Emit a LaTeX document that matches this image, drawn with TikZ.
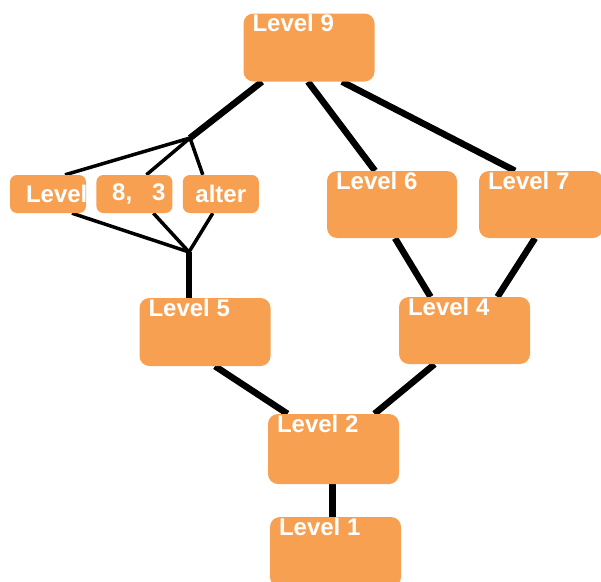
\documentclass[tikz,border=0pt]{standalone}
\usepackage{fontspec}
\setsansfont{Liberation Sans}
\usetikzlibrary{positioning,backgrounds}
\definecolor{LvlOrange}{RGB}{248,160,82}

\begin{document}
\begin{tikzpicture}[x=1pt,y=-1pt,
  lvl/.style={fill=LvlOrange,rounded corners=10pt,minimum width=131pt,minimum height=68pt,inner sep=0pt},
  small/.style={fill=LvlOrange,rounded corners=7pt,minimum width=76pt,minimum height=38pt,inner sep=0pt,
    font=\sffamily\bfseries\fontsize{24}{24}\selectfont,text=white},
  lbl/.style={anchor=north west,inner sep=0pt,xshift=9pt,yshift=-1pt,
    font=\sffamily\bfseries\fontsize{24}{24}\selectfont,text=white},
  thick line/.style={line width=6.5pt,draw=black},
  thin line/.style={line width=3.5pt,draw=black},
  node distance=10pt]
  \useasboundingbox (0,0) rectangle (601,581);
  \node[lvl,label={[lbl]north west:Level 9}] (l9) at (309,47.5) {};
  \node[lvl,minimum width=130pt,minimum height=67pt,label={[lbl]north west:Level 6}] (l6) at (392,204.5) {};
  \node[lvl,minimum width=124pt,minimum height=67pt,label={[lbl]north west:Level 7}] (l7) at (541,204.5) {};
  \node[lvl,label={[lbl]north west:Level 5}] (l5) at (205,332) {};
  \node[lvl,minimum height=67pt,label={[lbl]north west:Level 4}] (l4) at (464.5,330.5) {};
  \node[lvl,minimum height=70pt,label={[lbl]north west:Level 2}] (l2) at (333.5,449) {};
  \node[lvl,minimum height=70pt,label={[lbl]north west:Level 1}] (l1) at (335.5,552) {};
  % the three little boxes
  \node[small,text width=44pt,align=left] (lv) at (48,194) {Level};
  \node[small,right=of lv] (ea) {\hspace{9pt}8,\hspace{20pt}3};
  \node[small,right=of ea] (al) {alter};
  \coordinate (jtop) at (190,138);
  \coordinate (jbot) at (189,252);
  \begin{scope}[on background layer]
    \draw[thick line] ([xshift=-47pt]l9.south) -- (jtop);
    \draw[thick line] ([xshift=-1pt]l9.south) -- ([xshift=-17pt]l6.north);
    \draw[thick line] ([xshift=33pt]l9.south) -- ([xshift=-26pt]l7.north);
    \draw[thin line] (jtop) -- ([xshift=17pt]lv.north);
    \draw[thin line] (jtop) -- ([xshift=12pt]ea.north);
    \draw[thin line] (jtop) -- ([xshift=-18pt]al.north);
    \draw[thin line] ([xshift=24pt]lv.south) -- (jbot);
    \draw[thin line] ([xshift=19pt]ea.south) -- (jbot);
    \draw[thin line] ([xshift=-8pt]al.south) -- (jbot);
    \draw[thick line] (jbot) -- (jbot|-l5.north);
    \draw[thick line] ([xshift=3pt]l6.south) -- ([xshift=-34pt]l4.north);
    \draw[thick line] ([xshift=-6pt]l7.south) -- ([xshift=33pt]l4.north);
    \draw[thick line] ([xshift=10pt]l5.south) -- ([xshift=-46pt]l2.north);
    \draw[thick line] ([xshift=-30pt]l4.south) -- ([xshift=41pt]l2.north);
    \draw[thick line] ([xshift=-1pt]l2.south) -- ([xshift=-3pt]l1.north);
  \end{scope}
\end{tikzpicture}
\end{document}
